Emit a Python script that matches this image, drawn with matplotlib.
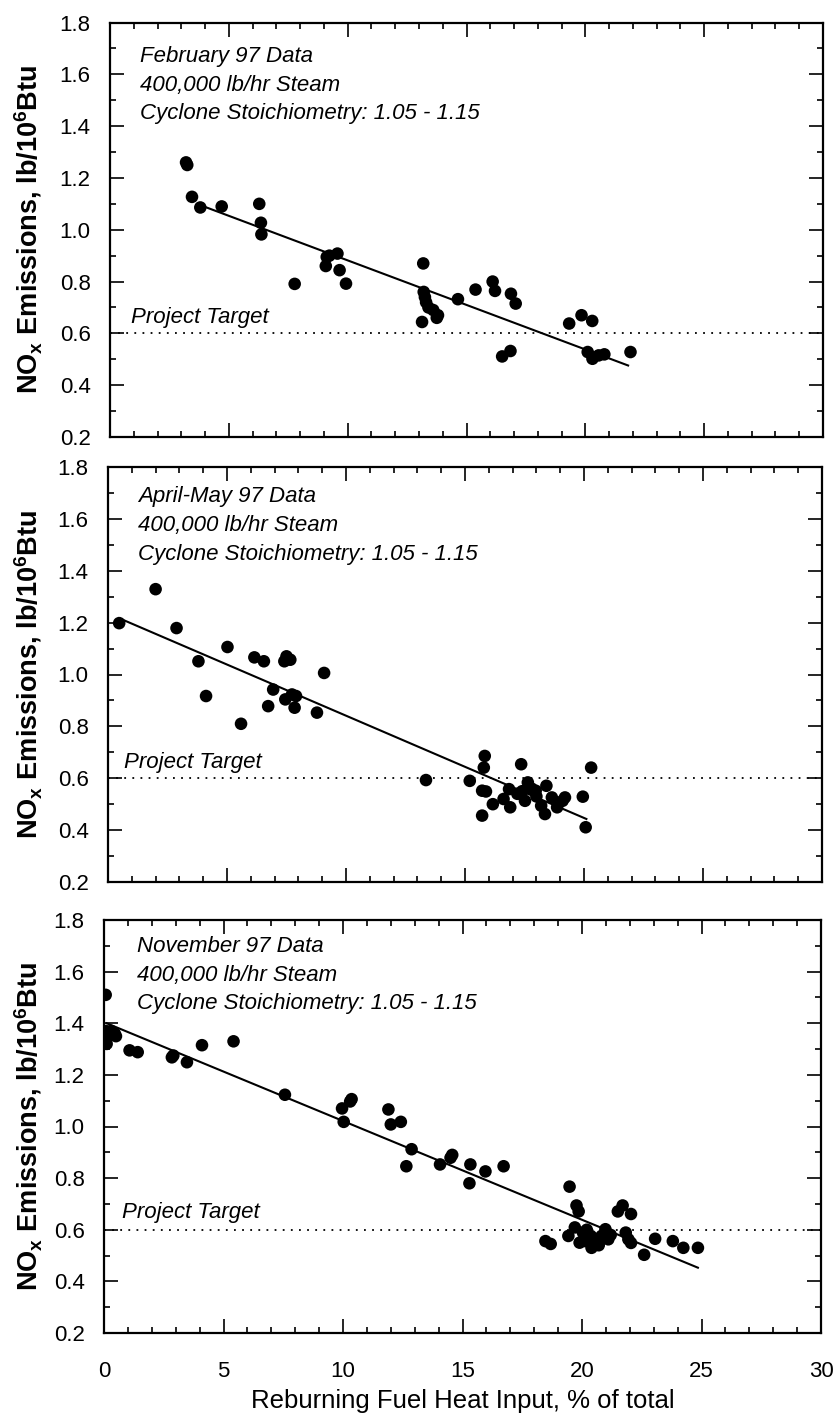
import matplotlib
matplotlib.use("Agg")
import matplotlib.pyplot as plt
from matplotlib.ticker import MultipleLocator

# ---------------- data ----------------
feb_x = [3.2, 3.25, 3.45, 3.8, 4.7, 6.28, 6.35, 6.37, 7.77, 9.08, 9.12, 9.23, 9.57, 9.66, 9.93,
         13.18, 13.13, 13.2, 13.25, 13.3, 13.4, 13.6, 13.8, 13.75, 14.64, 15.38, 16.1, 16.2,
         16.87, 17.07, 16.5, 16.85, 19.32, 19.84, 20.29, 20.1, 20.3, 20.56, 20.8, 21.9]
feb_y = [1.26, 1.25, 1.127, 1.086, 1.09, 1.10, 1.027, 0.982, 0.791, 0.86, 0.895, 0.90, 0.908, 0.844, 0.792,
         0.870, 0.644, 0.76, 0.74, 0.72, 0.70, 0.69, 0.67, 0.66, 0.732, 0.769, 0.80, 0.764,
         0.753, 0.715, 0.511, 0.532, 0.638, 0.670, 0.648, 0.528, 0.502, 0.515, 0.519, 0.528]
feb_fit_x = [3.8, 21.8]
feb_fit_y = [1.095, 0.476]

apr_x = [0.47, 2.0, 2.88, 3.8, 4.12, 5.02, 5.59, 6.15, 6.55, 6.73, 6.94, 7.41, 7.5, 7.66, 7.45,
         7.73, 7.84, 7.9, 8.78, 9.08, 13.36, 15.2, 15.83, 15.79, 15.72, 15.88, 15.72, 16.17,
         16.62, 16.9, 16.85, 17.36, 17.52, 17.64, 17.97, 18.2, 18.36, 18.42, 18.65, 18.87,
         19.1, 19.2, 19.95, 20.07, 20.3, 17.4, 17.8, 18.0, 17.2]
apr_y = [1.198, 1.329, 1.179, 1.051, 0.917, 1.106, 0.810, 1.066, 1.051, 0.878, 0.942, 1.051, 1.070, 1.057, 0.904,
         0.923, 0.872, 0.917, 0.853, 1.006, 0.593, 0.590, 0.686, 0.641, 0.552, 0.549, 0.456, 0.500,
         0.520, 0.488, 0.558, 0.654, 0.513, 0.584, 0.552, 0.494, 0.462, 0.571, 0.526, 0.488,
         0.513, 0.526, 0.529, 0.411, 0.641, 0.55, 0.56, 0.53, 0.54]
apr_fit_x = [0.47, 20.1]
apr_fit_y = [1.217, 0.443]

nov_x = [0.07, 0.07, 0.05, 0.1, 0.11, 0.3, 0.45, 0.5, 1.07, 1.41, 2.84, 2.9, 3.47, 4.1, 5.42,
         7.57, 9.96, 10.03, 10.3, 10.36, 11.9, 12.0, 12.42, 12.87, 12.65, 14.06, 14.5, 14.57,
         15.33, 15.29, 15.96, 16.72, 19.48, 19.77, 19.86, 18.47, 18.69, 19.43, 19.7, 20.04,
         20.15, 20.37, 20.4, 20.6, 20.82, 20.98, 21.1, 20.5, 21.5, 21.7, 22.05, 21.83, 21.94,
         22.05, 22.6, 23.06, 23.8, 24.24, 24.85, 20.2, 20.7, 21.2, 19.9]
nov_y = [1.51, 1.37, 1.36, 1.34, 1.32, 1.37, 1.36, 1.35, 1.295, 1.288, 1.268, 1.275, 1.249, 1.315, 1.330,
         1.123, 1.070, 1.018, 1.097, 1.106, 1.066, 1.008, 1.018, 0.912, 0.846, 0.853, 0.879, 0.890,
         0.853, 0.780, 0.826, 0.846, 0.767, 0.694, 0.671, 0.556, 0.545, 0.576, 0.609, 0.589,
         0.556, 0.576, 0.530, 0.563, 0.576, 0.602, 0.563, 0.549, 0.671, 0.694, 0.661, 0.589, 0.563,
         0.549, 0.503, 0.565, 0.556, 0.530, 0.530, 0.60, 0.54, 0.58, 0.55]
nov_fit_x = [0.11, 24.85]
nov_fit_y = [1.40, 0.453]

panel_titles = ["February 97 Data", "April-May 97 Data", "November 97 Data"]
steam_label = "400,000 lb/hr Steam"
stoich_label = "Cyclone Stoichiometry: 1.05 - 1.15"
target_value = 0.6
target_label = "Project Target"
x_ticks = [0, 5, 10, 15, 20, 25, 30]
y_ticks = [0.2, 0.4, 0.6, 0.8, 1.0, 1.2, 1.4, 1.6, 1.8]

panels = [
    (feb_x, feb_y, feb_fit_x, feb_fit_y),
    (apr_x, apr_y, apr_fit_x, apr_fit_y),
    (nov_x, nov_y, nov_fit_x, nov_fit_y),
]

# ---------------- figure ----------------
W, H = 838, 1418
fig = plt.figure(figsize=(W / 100, H / 100), dpi=100)
fig.patch.set_facecolor("white")

tick_font = ["Liberation Sans", "DejaVu Sans"]
text_font = ["Liberation Sans", "DejaVu Sans"]

# (left, right, top, bottom) in pixels
rects = [(110, 823, 22.5, 437), (108, 822, 467, 882), (104, 821, 920, 1333)]
text_pos = [(1.26, 1.669), (1.26, 1.685), (1.36, 1.697)]
target_pos = [(0.88, 0.663), (0.66, 0.66), (0.75, 0.668)]

for i, ((px_x, px_y, fx, fy), (l, r, t, b)) in enumerate(zip(panels, rects)):
    ax = fig.add_axes([l / W, 1 - b / H, (r - l) / W, (b - t) / H])
    ax.set_xlim(0, 30)
    ax.set_ylim(0.2, 1.8)
    ax.axhline(target_value, color="black", lw=1.3, ls=(0, (1, 3.5)))
    ax.plot(fx, fy, color="black", lw=1.5)
    ax.scatter(px_x, px_y, s=82, color="black", edgecolors="none", zorder=3)

    ax.xaxis.set_major_locator(MultipleLocator(5))
    ax.xaxis.set_minor_locator(MultipleLocator(1))
    ax.set_yticks(y_ticks)
    ax.yaxis.set_minor_locator(MultipleLocator(0.1))
    ax.tick_params(which="both", direction="in", top=True, right=True, width=1.2)
    ax.tick_params(which="major", length=10)
    ax.tick_params(which="minor", length=4)
    ax.tick_params(axis="y", labelsize=16, pad=14)
    ax.tick_params(axis="x", labelsize=16, pad=20)
    for sp in ax.spines.values():
        sp.set_linewidth(1.6)
    ax.set_yticklabels([f"{v:.1f}" for v in y_ticks], family=tick_font)
    if i == 2:
        ax.set_xticks(x_ticks)
        ax.set_xticklabels([str(v) for v in x_ticks], family=tick_font)
        ax.set_xlabel("Reburning Fuel Heat Input, % of total", family=tick_font,
                      fontsize=18.5)
        ax.xaxis.set_label_coords(0.5, (b - 1389) / (b - t))
    else:
        ax.set_xticklabels([])

    ax.set_ylabel(r"NO$_\mathregular{x}$ Emissions, lb/10$^\mathregular{6}$Btu",
                  family=text_font, fontsize=19.5, fontweight="bold")
    ax.yaxis.set_label_coords((44 - l) / (r - l), 0.5)

    tx, ty = text_pos[i]
    lines = [panel_titles[i], steam_label, stoich_label]
    for k, ln in enumerate(lines):
        ax.text(tx, ty - k * 0.111, ln, family=text_font, style="italic",
                fontsize=16, va="center", ha="left")
    gx, gy = target_pos[i]
    ax.text(gx, gy, target_label, family=text_font, style="italic",
            fontsize=16, va="center", ha="left")

fig.savefig("out.png", dpi=100, facecolor="white")
